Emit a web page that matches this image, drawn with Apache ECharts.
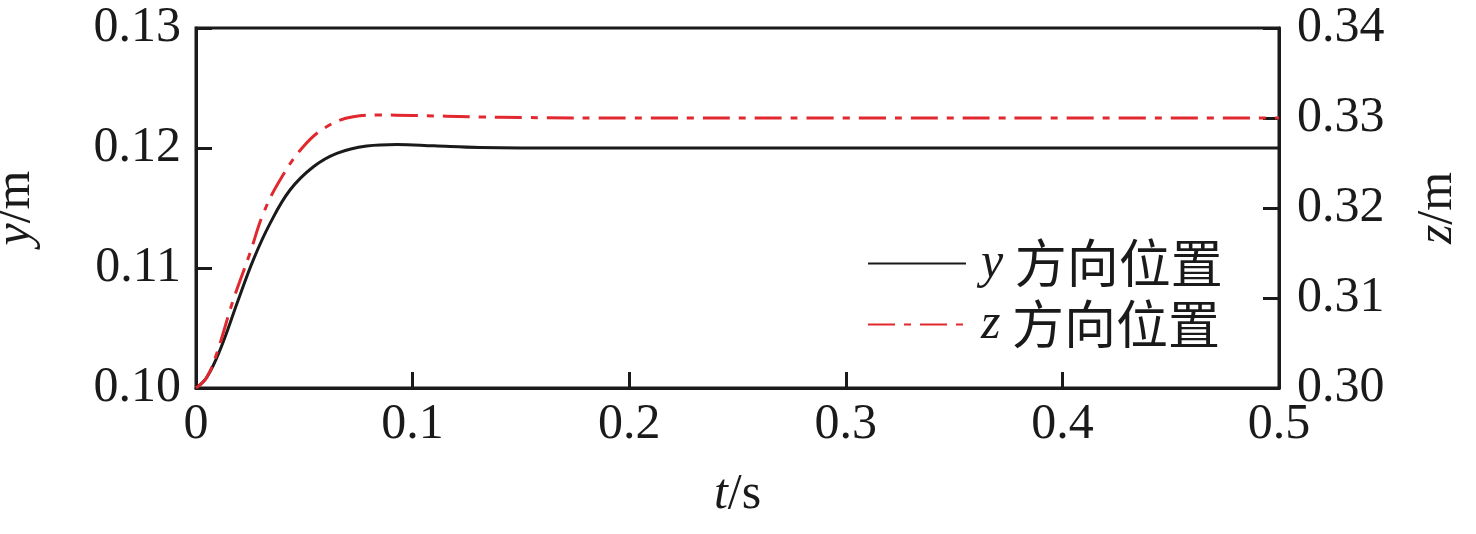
<!DOCTYPE html>
<html>
<head>
<meta charset="utf-8">
<script src="https://cdn.jsdelivr.net/npm/echarts@6/dist/echarts.min.js"></script>
<style>
html,body{margin:0;padding:0;background:#fff;}
#chart{width:1476px;height:534px;}
</style>
</head>
<body>
<div id="chart"></div>
<script>
// ---- data ----
const yTime = [0, 0.005, 0.0111, 0.0195, 0.0265, 0.0342, 0.0434, 0.0542, 0.065, 0.0788, 0.0927, 0.11, 0.131, 0.15, 0.2, 0.3, 0.4, 0.5];
const yPos  = [0.1, 0.1009, 0.10317, 0.10733, 0.1107, 0.11372, 0.1165, 0.11844, 0.11956, 0.12017, 0.1203, 0.12018, 0.12004, 0.12, 0.12, 0.12, 0.12, 0.12];
const zTime = [0, 0.005, 0.0096, 0.0172, 0.0249, 0.0311, 0.0388, 0.0495, 0.0603, 0.0726, 0.085, 0.1, 0.131, 0.15, 0.2, 0.3, 0.4, 0.5];
const zPos  = [0.3, 0.3012, 0.30386, 0.30978, 0.31497, 0.3194, 0.32311, 0.32681, 0.32903, 0.33014, 0.33033, 0.33028, 0.33012, 0.33005, 0.33, 0.33, 0.33, 0.33];
const seriesNames = ['y 方向位置', 'z 方向位置'];
const xTicks = [0, 0.1, 0.2, 0.3, 0.4, 0.5];
const yTicksLeft = [0.10, 0.11, 0.12, 0.13];
const yTicksRight = [0.30, 0.31, 0.32, 0.33, 0.34];

const serif = 'Liberation Serif';
const cjk = '"Noto Sans CJK SC"';
const ink = '#1a1a1a';
const red = '#e0282e';
const FS = 50;
const italic = {fontStyle: 'italic', fontFamily: serif, fontSize: FS, color: ink};

const chart = echarts.init(document.getElementById('chart'), null, {renderer: 'canvas'});
const axisCommon = {
  axisLine: {show: true, onZero: false, lineStyle: {color: ink, width: 3}},
  axisTick: {show: true, inside: true, length: 16, lineStyle: {color: ink, width: 3}},
  splitLine: {show: false},
  axisLabel: {color: ink, fontFamily: serif, fontSize: FS},
  nameTextStyle: {color: ink, fontFamily: serif, fontSize: FS, rich: {i: italic, n: {fontFamily: serif, fontSize: FS, color: ink}}}
};

chart.setOption({
  animation: false,
  backgroundColor: '#fff',
  grid: {left: 196, right: 197, top: 28, bottom: 146, containLabel: false, outerBoundsMode: 'none',
         show: true, borderColor: ink, borderWidth: 3, backgroundColor: 'transparent'},
  legend: {
    orient: 'vertical',
    left: 862, top: 232,
    itemWidth: 98, itemHeight: 14, itemGap: 8,
    itemStyle: {opacity: 0},
    data: seriesNames,
    formatter: function (n) { return '{i|' + n.charAt(0) + '}{c|' + n.slice(1) + '}'; },
    textStyle: {
      color: ink, fontSize: 46, lineHeight: 53,
      rich: {
        i: {fontStyle: 'italic', fontFamily: serif, fontSize: 50, color: ink, padding: [0, 0, 0, 10]},
        c: {fontFamily: cjk, fontSize: 52, color: ink}
      }
    }
  },
  xAxis: Object.assign({}, axisCommon, {
    type: 'value', min: 0, max: 0.5, interval: 0.1,
    name: '{i|t}{n|/s}', nameLocation: 'middle', nameGap: 82,
    axisLabel: Object.assign({}, axisCommon.axisLabel, {margin: 12, formatter: v => xTicks.includes(+v.toFixed(1)) ? (v === 0 ? '0' : v.toFixed(1)) : ''})
  }),
  yAxis: [
    Object.assign({}, axisCommon, {
      type: 'value', min: 0.10, max: 0.13, interval: 0.01, position: 'left',
      name: '{i|y}{n|/m}', nameLocation: 'middle', nameGap: 155, nameRotate: 90,
      axisLabel: Object.assign({}, axisCommon.axisLabel, {margin: 15, formatter: v => v.toFixed(2)})
    }),
    Object.assign({}, axisCommon, {
      type: 'value', min: 0.30, max: 0.34, interval: 0.01, position: 'right',
      name: '{i|z}{n|/m}', nameLocation: 'middle', nameGap: 134, nameRotate: 90,
      axisLabel: Object.assign({}, axisCommon.axisLabel, {margin: 18, formatter: v => v.toFixed(2)})
    })
  ],
  series: [
    {
      name: seriesNames[0], type: 'line', yAxisIndex: 0, smooth: 0.4, symbol: 'none', showSymbol: false,
      lineStyle: {color: ink, width: 3}, itemStyle: {color: ink},
      data: yTime.map((t, i) => [t, yPos[i]])
    },
    {
      name: seriesNames[1], type: 'line', yAxisIndex: 1, smooth: 0.4, symbol: 'none', showSymbol: false,
      lineStyle: {color: red, width: 3, type: [27, 9, 7, 9]}, itemStyle: {color: red},
      data: zTime.map((t, i) => [t, zPos[i]])
    }
  ]
});
</script>
</body>
</html>
